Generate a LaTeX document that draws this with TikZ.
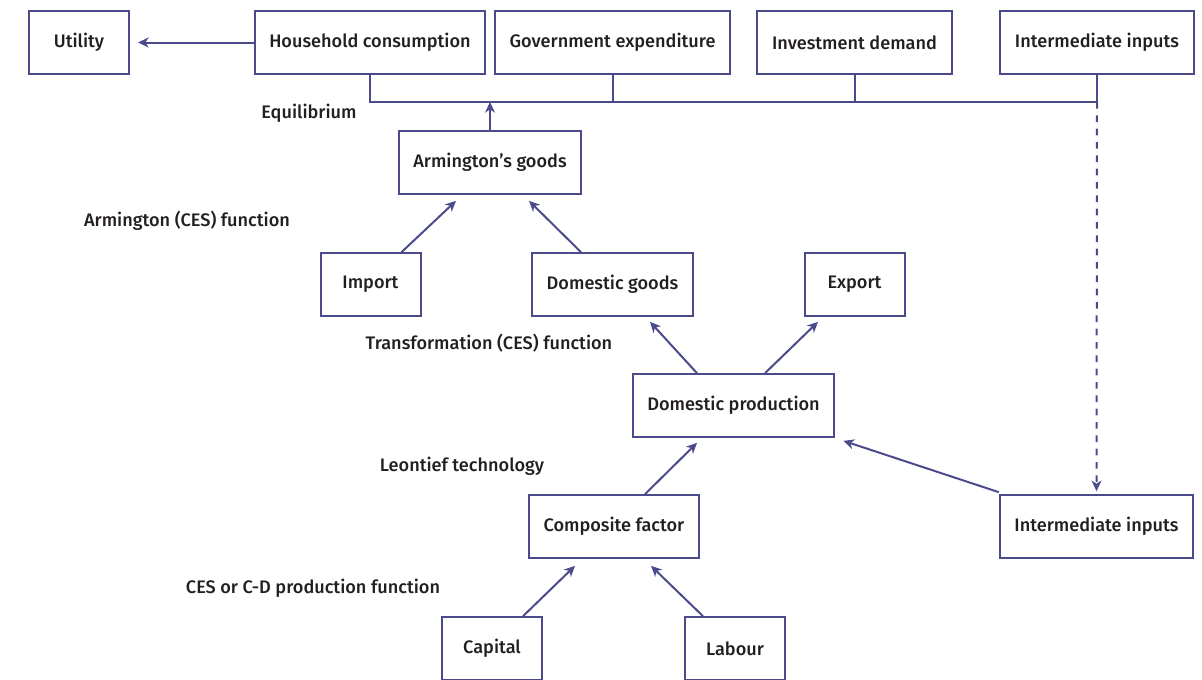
\documentclass[tikz,border=0pt]{standalone}
\usepackage{fontspec}
\IfFontExistsTF{Fira Sans Medium}{\setmainfont{Fira Sans Medium}}{\setmainfont{Fira Sans}}
\usetikzlibrary{calc,arrows.meta}
\definecolor{flow}{RGB}{75,75,140}
\definecolor{ink}{RGB}{35,31,32}

\begin{document}
\begin{tikzpicture}[x=0.75pt,y=-0.75pt,
        box/.style={
          draw=flow, line width=1.5pt, text=ink, minimum height=47pt,
          minimum width=75pt, inner xsep=11pt,
          font=\fontsize{13.6}{16}\selectfont
        },
        lbl/.style={text=ink, font=\fontsize{13.6}{16}\selectfont},
        link/.style={color=flow, line width=1.5pt,
          -{Stealth[length=8pt,width=7.5pt,inset=2.5pt]}}
      ]
      \clip (0,0) rectangle (1202,679);
      \node [box] (util) at (79,42.5) {Utility};
      \node [box] (hh) at (370,42.5) {Household consumption};
      \node [box] (gov) at (612.5,42.5) {Government expenditure};
      \node [box] (inv) at (854.5,42.5) {Investment demand};
      \node [box] (inttop) at (1097,42.5) {Intermediate inputs};
      \node [box] (arm) at (490,162.5) {Armington’s goods};
      \node [box] (imp) at (370.5,284.5) {Import};
      \node [box] (dom) at (612.5,284.5) {Domestic goods};
      \node [box] (exp) at (854.5,284.5) {Export};
      \node [box] (dp) at (733.5,405.5) {Domestic production};
      \node [box] (cf) at (614,526.5) {Composite factor};
      \node [box] (intbot) at (1096.5,526.5) {Intermediate inputs};
      \node [box] (cap) at (492,648.5) {Capital};
      \node [box] (lab) at (735,648.5) {Labour};
      \node [lbl] (equil) at (309,113) {Equilibrium};
      \node [lbl] (armfn) at (187,221) {Armington (CES) function};
      \node [lbl] (trfn) at (489,343) {Transformation (CES) function};
      \node [lbl] (leon) at (462,466) {Leontief technology};
      \node [lbl] (cesfn) at (313,588) {CES or C-D production function};
      \coordinate (bus) at (1097,102);
      \draw [flow, line width=1.5pt] (hh.south) |- (bus);
      \draw [flow, line width=1.5pt] (gov.south) -- (gov.south |- bus);
      \draw [flow, line width=1.5pt] (inv.south) -- (inv.south |- bus);
      \draw [flow, line width=1.5pt] (inttop.south) -- (bus);
      \draw [link] (arm.north) -- (arm.north |- bus);
      \draw [link, dash pattern=on 5pt off 5pt] (bus) -- ($(intbot.north)+(0,-3)$);
      \draw [link] (hh.west) -- ($(util.east)+(8,0)$);
      \draw [link] ($(imp.north)+(31,0)$) -- ($(arm.south)+(-34,6)$);
      \draw [link] ($(dom.north)+(-31.5,0)$) -- ($(arm.south)+(39,6)$);
      \draw [link] ($(dp.north)+(-36.5,0)$) -- ($(dom.south)+(37.5,5)$);
      \draw [link] ($(dp.north)+(31.5,0)$) -- ($(exp.south)+(-36.5,5)$);
      \draw [link] ($(cf.north)+(31,0)$) -- ($(dp.south)+(-36.5,5)$);
      \draw [link] ($(intbot.north west)+(0,-2)$) -- ($(dp.south east)+(8,3)$);
      \draw [link] ($(cap.north)+(31,0)$) -- ($(cf.south)+(-39,7)$);
      \draw [link] ($(lab.north)+(-32,0)$) -- ($(cf.south)+(37,7)$);
    \end{tikzpicture}
\end{document}
